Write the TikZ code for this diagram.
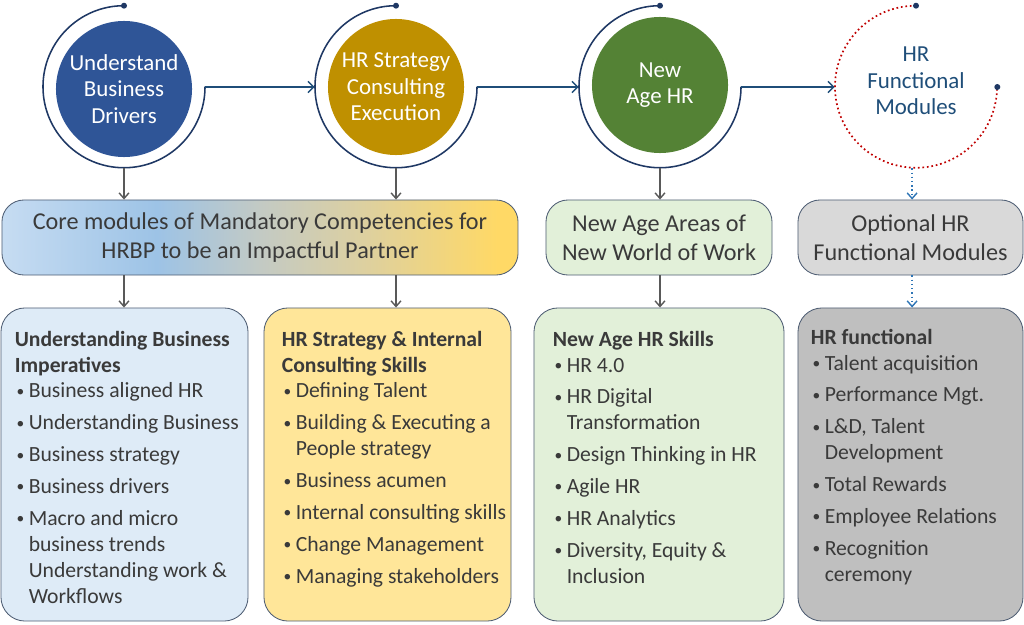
\documentclass[tikz,border=0pt]{standalone}
\usepackage{fontspec}
\setmainfont{Carlito}
\usetikzlibrary{arrows.meta,shapes}

\definecolor{ringblue}{HTML}{1F3864}
\definecolor{flowblue}{HTML}{1F4E79}
\definecolor{cblue}{HTML}{2F5597}
\definecolor{cgold}{HTML}{BF9000}
\definecolor{cgreen}{HTML}{548235}
\definecolor{cred}{HTML}{C00000}
\definecolor{dotblue}{HTML}{2E75B6}
\definecolor{arrgrey}{HTML}{595959}
\definecolor{txtgrey}{HTML}{3A3A3A}
\definecolor{boxline}{HTML}{4E5D73}
\definecolor{fblue}{HTML}{DEEBF7}
\definecolor{fgold}{HTML}{FFE699}
\definecolor{fgreen}{HTML}{E2F0D9}
\definecolor{fgrey}{HTML}{D9D9D9}
\definecolor{fdark}{HTML}{BFBFBF}
\definecolor{coreA}{HTML}{C6DCF2}
\definecolor{coreB}{HTML}{9DC3E6}
\definecolor{coreC}{HTML}{C3CAC4}
\definecolor{coreD}{HTML}{DDD0A0}
\definecolor{coreE}{HTML}{FFD966}

\pgfdeclarehorizontalshading{coreshade}{100bp}{color(0bp)=(coreA); color(25bp)=(coreA); color(40bp)=(coreB); color(50bp)=(coreC); color(60bp)=(coreD); color(73bp)=(coreE); color(100bp)=(coreE)}

\newcommand{\circfont}{\fontsize{16.3pt}{18.8pt}\selectfont}
\newcommand{\midfont}{\fontsize{17.2pt}{20.6pt}\selectfont}
\newcommand{\listfont}{\fontsize{15.4pt}{18.4pt}\selectfont}
\newcommand{\itm}{\hspace*{1.2pt}\makebox[8.7pt][l]{\raisebox{0.15ex}{\fontsize{11pt}{11pt}\selectfont\textbullet}}}
\newcommand{\cont}{\hspace*{9.9pt}}

\begin{document}
\begin{tikzpicture}[x=0.025cm, y=0.025cm,
  circ/.style={circle, minimum size=3.4cm, inner sep=0, align=center, text=white, font=\circfont},
  ring/.style={circle, minimum size=4.05cm, inner sep=0},
  midbox/.style={draw=boxline, line width=0.6pt, rounded corners=0.55cm, minimum height=1.875cm, align=center, text=txtgrey, font=\midfont},
  bigbox/.style={draw=boxline, line width=0.6pt, rounded corners=0.6cm, minimum height=7.825cm},
  listtxt/.style={anchor=north west, align=left, inner sep=0, text=txtgrey, font=\listfont},
  flow/.style={-{Straight Barb[length=4pt,width=8pt]}, flowblue, line width=1.1pt},
  down/.style={-{Straight Barb[length=4pt,width=7pt]}, arrgrey, line width=1pt},
  dotarr/.style={-{Straight Barb[length=4pt,width=7pt]}, dotblue, line width=1pt, dotted},
]

\useasboundingbox (0,0) rectangle (1024,-624);

% top row
\node[ring] (r1) at (124,-87) {};
\node[ring] (r2) at (396,-87) {};
\node[ring] (r3) at (660,-87) {};
\node[ring] (r4) at (916,-87) {};

\node[circ, fill=cblue] (c1) at (124,-89) {Understand\\Business\\Drivers};
\node[circ, fill=cgold] (c2) at (396,-87) {HR Strategy\\Consulting\\Execution};
\node[circ, fill=cgreen] (c3) at (660,-85) {New\\Age HR};
\node[align=center, text=flowblue, font=\circfont] (c4) at (916,-81) {HR\\Functional\\Modules};

\draw[ringblue, line width=1.1pt] (r1.north) arc[start angle=90, end angle=360, radius=2.025cm];
\draw[ringblue, line width=1.1pt] (r2.north) arc[start angle=90, end angle=360, radius=2.025cm];
\draw[ringblue, line width=1.1pt] (r3.north) arc[start angle=90, end angle=360, radius=2.025cm];
\draw[cred, line width=1.2pt, dotted] (r4.north) arc[start angle=90, end angle=360, radius=2.025cm];

\fill[ringblue] (r1.north) circle (0.075cm);
\fill[ringblue] (r2.north) circle (0.075cm);
\fill[ringblue] (r3.north) circle (0.075cm);
\fill[ringblue] (r4.north) circle (0.075cm);
\fill[ringblue] (r4.east) circle (0.075cm);

\draw[flow] (r1.east) -- (r2.west);
\draw[flow] (r2.east) -- (r3.west);
\draw[flow] (r3.east) -- (r4.west);

% middle row
\node[midbox, minimum width=12.9cm, shade, shading=coreshade] (core) at (260,-237.5) {Core modules of Mandatory Competencies for\\HRBP to be an Impactful Partner};
\node[midbox, minimum width=5.65cm, fill=fgreen] (nwow) at (659,-237.5) {New Age Areas of\\New World of Work};
\node[midbox, minimum width=5.625cm, fill=fgrey] (opt) at (910.5,-237.5) {Optional HR\\Functional Modules};

% bottom row
\node[bigbox, minimum width=6.175cm, fill=fblue] (b1) at (124.5,-464.5) {};
\node[bigbox, minimum width=6.175cm, fill=fgold] (b2) at (387.5,-464.5) {};
\node[bigbox, minimum width=6.25cm, fill=fgreen] (b3) at (659,-464.5) {};
\node[bigbox, minimum width=5.625cm, fill=fdark] (b4) at (910.5,-464.5) {};

\node[listtxt] (t1) at ([xshift=0.35cm, yshift=-0.58cm]b1.north west) {\textbf{Understanding Business}\\\textbf{Imperatives}\\
\itm Business aligned HR\\[4.25pt]
\itm Understanding Business\\[4.25pt]
\itm Business strategy\\[4.25pt]
\itm Business drivers\\[4.25pt]
\itm Macro and micro\\\cont business trends\\\cont Understanding work \&\\\cont Workflows};

\node[listtxt] (t2) at ([xshift=0.45cm, yshift=-0.58cm]b2.north west) {\textbf{HR Strategy \& Internal}\\\textbf{Consulting Skills}\\
\itm Defining Talent\\[4.25pt]
\itm Building \& Executing a\\\cont People strategy\\[4.25pt]
\itm Business acumen\\[4.25pt]
\itm Internal consulting skills\\[4.25pt]
\itm Change Management\\[4.25pt]
\itm Managing stakeholders};

\node[listtxt] (t3) at ([xshift=0.475cm, yshift=-0.58cm]b3.north west) {\textbf{New Age HR Skills}\\
\itm HR 4.0\\[4.25pt]
\itm HR Digital\\\cont Transformation\\[4.25pt]
\itm Design Thinking in HR\\[4.25pt]
\itm Agile HR\\[4.25pt]
\itm HR Analytics\\[4.25pt]
\itm Diversity, Equity \&\\\cont Inclusion};

\node[listtxt] (t4) at ([xshift=0.325cm, yshift=-0.53cm]b4.north west) {\textbf{HR functional}\\
\itm Talent acquisition\\[4.25pt]
\itm Performance Mgt.\\[4.25pt]
\itm L\&D, Talent\\\cont Development\\[4.25pt]
\itm Total Rewards\\[4.25pt]
\itm Employee Relations\\[4.25pt]
\itm Recognition\\\cont ceremony};

% connectors down
\draw[down] (r1.south) -- (r1.south |- core.north);
\draw[down] (r1.south |- core.south) -- (r1.south |- b1.north);
\draw[down] (r2.south) -- (r2.south |- core.north);
\draw[down] (r2.south |- core.south) -- (r2.south |- b2.north);
\draw[down] (r3.south) -- (r3.south |- nwow.north);
\draw[down] (r3.south |- nwow.south) -- (r3.south |- b3.north);
\draw[dotarr] ([xshift=0.04cm]opt.north |- r4.south) -- ([xshift=0.04cm]opt.north);
\draw[dotarr] ([xshift=0.04cm]opt.south) -- ([xshift=0.04cm]b4.north);

\end{tikzpicture}
\end{document}
